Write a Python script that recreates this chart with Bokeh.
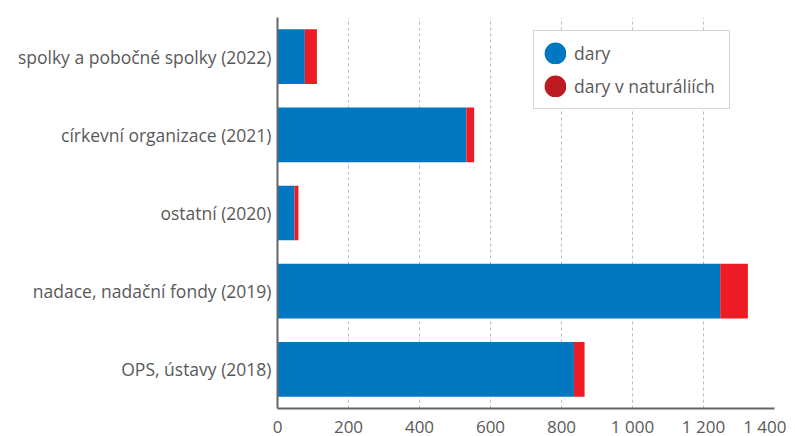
from bokeh.plotting import figure
from bokeh.models import (ColumnDataSource, FactorRange, Range1d, FixedTicker,
                          Legend, LegendItem)
from bokeh.embed import file_html
from bokeh.resources import INLINE

categories = ["spolky a pobočné spolky (2022)", "církevní organizace (2021)",
              "ostatní (2020)", "nadace, nadační fondy (2019)", "OPS, ústavy (2018)"]
dary = [77, 532, 48, 1247, 835]
dary_naturalie = [34, 22, 11, 78, 30]
series_labels = ["dary", "dary v naturáliích"]
tick_values = [0, 200, 400, 600, 800, 1000, 1200, 1400]
tick_labels = ["0", "200", "400", "600", "800", "1 000", "1 200", "1 400"]

BLUE = "#0077C1"
RED = "#ED1C24"
RED_LEGEND = "#BE1A22"
TEXT = "#595959"
FONT = "Open Sans"

source = ColumnDataSource(dict(cat=categories, dary=dary, nat=dary_naturalie))

p = figure(y_range=FactorRange(*list(reversed(categories))),
           x_range=Range1d(0, 1400),
           frame_width=497, frame_height=391,
           min_border_left=277, min_border_right=12, min_border_top=17, min_border_bottom=26,
           output_backend="svg", toolbar_location=None)

p.hbar_stack(["dary", "nat"], y="cat", height=0.7, color=[BLUE, RED],
             line_color=None, source=source)

# legend-only markers: a single point with no x position, so nothing is drawn in the plot
dummy = ColumnDataSource(dict(x=[float("nan")], y=[categories[0]]))
r1 = p.scatter("x", "y", source=dummy, size=9, fill_color=BLUE, line_color=BLUE, line_width=13)
r2 = p.scatter("x", "y", source=dummy, size=9, fill_color=RED_LEGEND, line_color=RED_LEGEND, line_width=13)
legend = Legend(items=[LegendItem(label=series_labels[0], renderers=[r1], index=0),
                       LegendItem(label=series_labels[1], renderers=[r2], index=0)],
                location=(256, 299), glyph_width=22, glyph_height=22, spacing=9,
                padding=10, margin=0, label_standoff=8, label_width=145,
                label_text_font=FONT, label_text_font_size="17.5px", label_text_color=TEXT,
                label_height=22,
                border_line_color="#AAAAAA", border_line_width=1.5,
                background_fill_color="white", background_fill_alpha=1)
p.add_layout(legend, "center")

p.xaxis.ticker = FixedTicker(ticks=tick_values)
p.xaxis.major_label_overrides = {v: l for v, l in zip(tick_values, tick_labels)}
for ax in (p.xaxis, p.yaxis):
    ax.axis_line_color = "#666666"
    ax.axis_line_width = 2
    ax.major_tick_line_color = None
    ax.minor_tick_line_color = None
    ax.major_tick_out = 0
    ax.major_tick_in = 0
    ax.major_label_text_font = FONT
    ax.major_label_text_color = TEXT
p.xaxis.major_label_text_font_size = "17px"
p.yaxis.major_label_text_font_size = "17.5px"
p.xaxis.major_label_standoff = 6
p.yaxis.major_label_standoff = 6

p.ygrid.grid_line_color = None
p.xgrid.grid_line_color = "#BBBBBB"
p.xgrid.grid_line_dash = "3 3"
p.xgrid.grid_line_width = 1
p.outline_line_color = None

open("out.html", "w").write(file_html(p, INLINE))
